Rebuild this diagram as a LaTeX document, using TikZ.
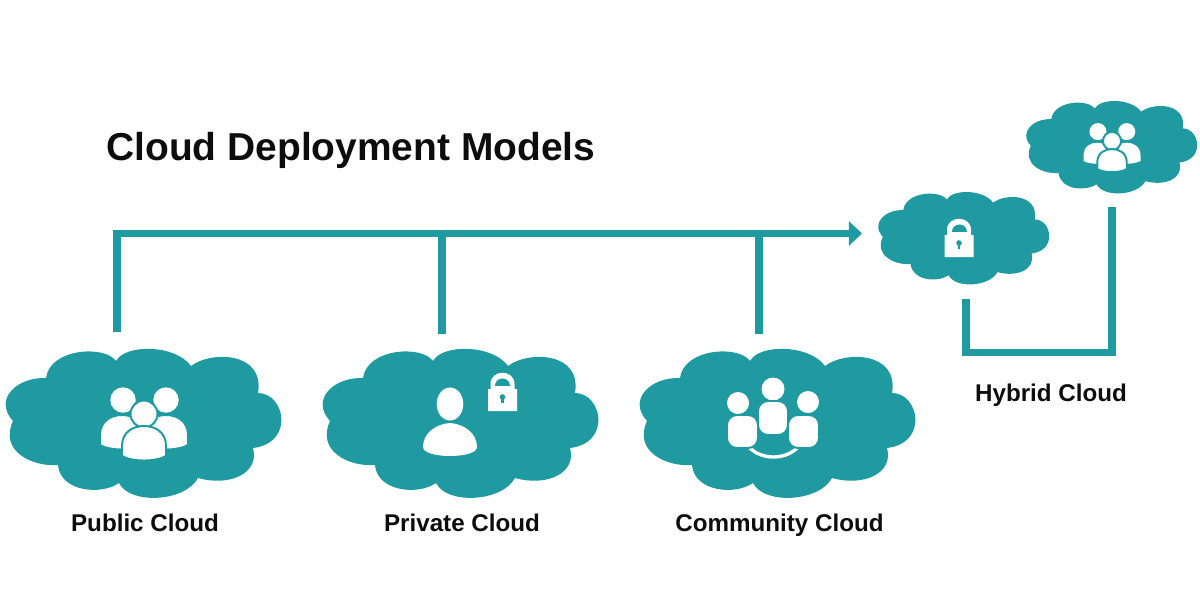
\documentclass[tikz,border=0pt]{standalone}
\usepackage{fontspec}
\setmainfont{Liberation Sans}
\usetikzlibrary{arrows.meta}
\definecolor{cloudteal}{HTML}{1F9AA0}
\tikzset{
  every pic/.style={transform shape},
  cloudbox/.style={shape=rectangle, inner sep=0pt, minimum width=6.9cm, minimum height=3.7cm},
  cloudboxsmall/.style={shape=rectangle, inner sep=0pt, minimum width=4.25cm, minimum height=2.3cm},
  caption/.style={inner sep=0pt, anchor=base, font=\fontsize{17.2}{20}\selectfont\bfseries, text=black!95},
  heading/.style={inner sep=0pt, anchor=base west, font=\fontsize{27.7}{32}\selectfont\bfseries, text=black!95},
  link/.style={draw=cloudteal, line width=0.185cm},
  halo/.style={fill=white, draw=cloudteal, line width=1.4pt},
  pics/cloudshape/.style={code={
    \fill[cloudteal] (-131,-2) .. controls (-151,-24) and (-127,-46) .. (-98,-45)
      .. controls (-94,-75) and (-39,-78) .. (-28,-62)
      .. controls (-19,-79) and (31,-79) .. (47,-57)
      .. controls (66,-72) and (121,-72) .. (114,-30)
      .. controls (141,-30) and (151,20) .. (109,25)
      .. controls (116,50) and (86,64) .. (54,55)
      .. controls (41,79) and (-14,82) .. (-25,60)
      .. controls (-44,73) and (-84,68) .. (-86,42)
      .. controls (-112,44) and (-145,28) .. (-131,-2) -- cycle;
  }},
  pics/bodyicon/.style={code={
    \path[halo] (-22,13) -- (-22,3) .. controls (-22,-11) and (-11,-17) .. (0,-17)
      .. controls (11,-17) and (22,-11) .. (22,3) -- (22,13) .. controls (12,19) and (-12,19) .. (-22,13) -- cycle;
  }},
  pics/groupicon/.style={code={
    \fill[white] (-21,-23) circle (12.7);
    \fill[white] (22,-23) circle (12.7);
    \pic at (-22,9) {bodyicon};
    \pic at (22,9) {bodyicon};
    \path[halo] (0,-9) circle (13.5);
    \pic at (0,20) {bodyicon};
  }},
  pics/lockicon/.style={code={
    \fill[white] (-14.5,19) -- (-14.5,-3) -- (-12,-3) -- (-12,-8) .. controls (-12,-23) and (12,-23) .. (12,-8) -- (12,-3) -- (14.5,-3) -- (14.5,19) -- cycle;
    \fill[cloudteal] (-7.5,-6.5) .. controls (-7.5,-16.5) and (7.5,-16.5) .. (7.5,-6.5) -- cycle;
    \fill[cloudteal] (0,5) circle (2.8);
    \fill[cloudteal] (-1.3,5) rectangle (1.3,11);
  }},
  pics/usericon/.style={code={
    \fill[white] (-11,-19) ellipse (13.3 and 16.5);
    \fill[white] (-38,24) .. controls (-38,10) and (-25,1) .. (-11,0) .. controls (3,1) and (16,10) .. (16,24) .. controls (16,36) and (-38,36) .. (-38,24) -- cycle;
  }},
  pics/meeticon/.style={code={
    \fill[white] (-5,-34) circle (11.5);
    \fill[white] (-40,-20) circle (11);
    \fill[white] (30,-21) circle (11);
    \draw[white, line width=2.4pt] (-31,22) .. controls (-18,38) and (9,38) .. (22,22);
    \path[halo, rounded corners=7pt] (-51,-8) rectangle (-20,25);
    \path[halo, rounded corners=7pt] (10,-8) rectangle (41,25);
    \path[halo, rounded corners=7pt] (-20,-22) rectangle (10,12);
  }},
}
\begin{document}
\begin{tikzpicture}[x=0.025cm, y=-0.025cm]
\useasboundingbox (0,0) rectangle (1200,600);
\node[heading] (title) at (106,160.5) {Cloud Deployment Models};
\node[cloudbox] (public) at (144,423) {};
\node[cloudbox] (private) at (461,423) {};
\node[cloudbox] (community) at (778,423) {};
\node[cloudboxsmall] (lockcloud) at (964,238) {};
\node[cloudboxsmall] (groupcloud) at (1112,147) {};
\pic at (public) {cloudshape};
\pic at (private) {cloudshape};
\pic at (community) {cloudshape};
\pic[scale=.62] at (lockcloud) {cloudshape};
\pic[scale=.62] at (groupcloud) {cloudshape};
\pic at (public) {groupicon};
\pic at (private) {usericon};
\pic at (502.5,392) {lockicon};
\pic at (community) {meeticon};
\pic at (959,238) {lockicon};
\pic[scale=.67] at (groupcloud) {groupicon};
\node[caption] (publiclabel) at (145,531) {Public Cloud};
\node[caption] (privatelabel) at (462,531) {Private Cloud};
\node[caption] (communitylabel) at (779.5,531) {Community Cloud};
\node[caption] (hybridlabel) at (1051,401) {Hybrid Cloud};
\coordinate (publictop) at (117,332);
\coordinate (privatetop) at (442,334);
\coordinate (communitytop) at (759,334);
\coordinate (arrowtip) at (862,233.5);
\coordinate (lockbottom) at (966,299);
\coordinate (elbow) at (1112,352.5);
\coordinate (grouptop) at (1112,207);
\draw[link, -{Triangle[length=0.33cm, width=0.6cm]}] (publictop) |- (arrowtip);
\draw[link] (privatetop) -- (privatetop |- arrowtip);
\draw[link] (communitytop) -- (communitytop |- arrowtip);
\draw[link] (lockbottom) |- (elbow) -- (grouptop);
\end{tikzpicture}
\end{document}
